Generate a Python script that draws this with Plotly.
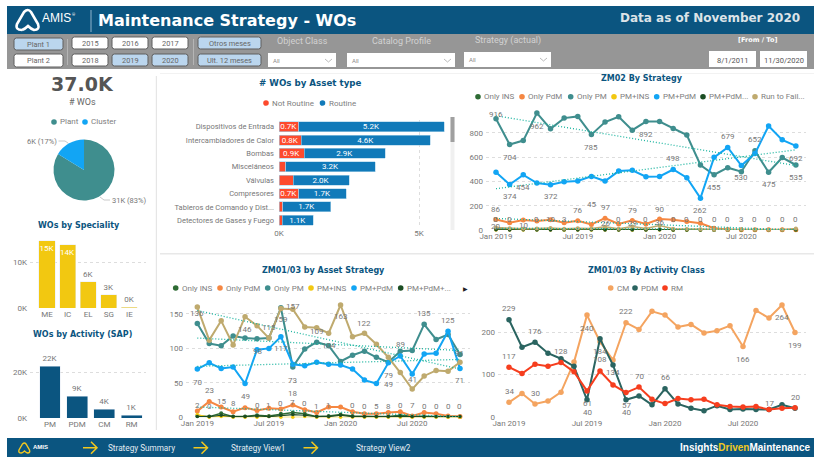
import plotly.graph_objects as go

W, H = 827, 461
BLUE = "#0B5580"; GREY = "#969696"; TXT = "#777777"; YEL = "#F2C81F"
TEAL = "#3F8E8E"; SKY = "#12A5F4"; ORG = "#F58742"; TAN = "#BFAA6E"; DGR = "#2E6B34"; DK = "#1B4D23"; GOLD = "#F2C811"
TREND = "#1DB5A0"
BODY = "Roboto"; HEAD = "DejaVu Sans"

# ---------- data ----------
months = ["Jan 2019","Feb 2019","Mar 2019","Apr 2019","May 2019","Jun 2019","Jul 2019","Aug 2019","Sep 2019","Oct 2019","Nov 2019","Dec 2019",
          "Jan 2020","Feb 2020","Mar 2020","Apr 2020","May 2020","Jun 2020","Jul 2020","Aug 2020","Sep 2020","Oct 2020","Nov 2020"]
date_ticks = ["Jan 2019","Jul 2019","Jan 2020","Jul 2020"]

pie_names = ["Plant","Cluster"]
pie_values = [31,6]

spec_cats = ["ME","IC","EL","SG","IE"]
spec_vals = [14.6,13.7,5.7,2.9,0.2]
spec_text = ["15K","14K","6K","3K","0K"]

act_cats = ["PM","PDM","CM","RM"]
act_vals = [22.4,9.4,3.9,1.3]
act_text = ["22K","9K","4K","1K"]

asset_cats = ["Dispositivos de Entrada","Intercambiadores de Calor","Bombas","Misceláneos","Válvulas","Compresores","Tableros de Comando y Dist...","Detectores de Gases y Fuego"]
not_routine = [0.7,0.8,0.9,0.24,0.5,0.7,0.14,0.12]
routine = [5.2,4.6,2.9,3.2,2.0,1.7,1.7,1.1]

z2_ins = [8,6,10,8,10,3,6,5,8,4,3,5,6,3,2,2,1,1,3,1,1,2,1]
z2_pdm = [86,60,82,75,85,60,76,45,97,50,79,50,90,85,70,55,15,5,3,3,3,3,3]
z2_pm = [916,704,736,962,833,921,935,785,888,932,822,892,892,836,781,535,455,513,480,652,475,596,535]
z2_pminS = [0,0,0,0,0,0,0,0,0,0,0,0,0,0,0,0,0,0,0,0,0,0,0]
z2_pmpdm = [475,374,454,386,372,397,403,441,403,485,491,439,441,498,430,262,598,679,530,629,856,742,692]
z2_plus = [2,1,2,1,1,2,1,2,1,1,2,1,2,1,1,1,1,1,1,1,1,1,1]
z2_run = [20,14,10,12,16,10,15,12,26,10,29,12,36,10,8,6,3,3,5,3,3,3,12]
z2_small_text = ["0","0","","0","10","3","","","","0","","0","","0","0","0","0","0","3","0","0","0","0"]
z2_trend_pm = [940,530]
z2_trend_pmpdm = [340,660]
z2_trend_pdm = [95,0]
z2_trend_run = [14,4]

z1_ins = [2,1,6,1,1,3,2,5,7,5,1,2,4,2,1,1,1,3,2,1,1,1,1]
z1_pdm = [9,23,15,8,14,10,13,12,18,11,7,15,15,8,5,5,7,8,2,7,5,2,1]
z1_pm = [136,107,104,118,115,114,115,159,73,99,109,104,81,90,96,87,80,96,97,135,113,120,91]
z1_pmins = [4,0,1,0,0,0,1,0,0,1,0,0,0,0,0,0,0,0,0,0,0,0,0]
z1_pmpdm = [70,79,71,73,49,98,100,117,77,75,80,77,76,70,54,49,79,89,63,92,93,125,71]
z1_plus = [1,1,3,1,1,2,1,3,4,3,1,1,3,1,1,1,1,2,1,1,1,1,1]
z1_run = [160,112,140,105,146,133,115,158,157,131,130,122,163,117,122,106,87,65,41,60,68,67,80]
z1_small_text = ["2","0","","","","0","1","0","7","0","1","1","","0","0","5","8","0","7","0","0","0","0"]
z1_extra_text = {16:"49"}
z1_trend_run = [155,70]
z1_trend_pm = [115,97]
z1_trend_pmpdm = [74,84]
z1_trend_pdm = [15,1]

cm = [34,55,30,37,58,129,240,177,134,222,206,249,240,212,218,198,203,215,166,251,233,264,199]
pdm = [229,164,176,150,137,119,40,184,122,40,49,28,66,30,20,14,26,17,18,17,17,28,20]
rm = [117,102,124,119,128,106,61,108,75,57,70,41,31,43,40,41,28,24,23,24,17,20,21]

# ---------- pixel helpers ----------
def fx(x): return x / W
def fy(y): return 1 - y / H
shapes, notes = [], []

def txt(x, y, s, size=8, color=TXT, font=BODY, anchor="center", bold=False):
    notes.append(dict(x=fx(x), y=fy(y), xref="paper", yref="paper", text=f"<b>{s}</b>" if bold else s, showarrow=False,
                      xanchor=anchor, yanchor="middle", font=dict(size=size, color=color, family=font), borderpad=0))

def rect(x0, y0, x1, y1, fill, line=None, lw=1, layer="below"):
    shapes.append(dict(type="rect", xref="paper", yref="paper", x0=fx(x0), x1=fx(x1), y0=fy(y0), y1=fy(y1), fillcolor=fill,
                       line=dict(color=line or fill, width=lw if line else 0), layer=layer))

def pth(points, color, lw=1, fill=None, layer="above"):
    d = ""
    for cmd, *c in points:
        d += cmd + " ".join(f"{(fx(c[i]) if i % 2 == 0 else fy(c[i])):.5f}" for i in range(len(c))) + " "
    shapes.append(dict(type="path", xref="paper", yref="paper", path=d, line=dict(color=color, width=lw),
                       fillcolor=fill or "rgba(0,0,0,0)", layer=layer))

def rrect(x0, y0, x1, y1, fill, line="#5f5f5f", r=2.5, lw=1):
    pth([("M", x0+r, y0), ("L", x1-r, y0), ("Q", x1, y0, x1, y0+r), ("L", x1, y1-r), ("Q", x1, y1, x1-r, y1),
         ("L", x0+r, y1), ("Q", x0, y1, x0, y1-r), ("L", x0, y0+r), ("Q", x0, y0, x0+r, y0), ("Z",)], line, lw, fill, "below")

def dot(x, y, color, r=2.8):
    shapes.append(dict(type="circle", xref="paper", yref="paper", x0=fx(x-r), x1=fx(x+r), y0=fy(y-r), y1=fy(y+r),
                       fillcolor=color, line=dict(width=0)))

def legend(items, y, size=8):
    for x, name, color in items:
        dot(x, y, color)
        txt(x+5, y, name, size=size, anchor="left", color="#808080")

def logo(ox, oy, k, color, lw):
    P = lambda x, y: (ox + x*k, oy + y*k)
    pth([("M", *P(7,20)), ("Q", *P(0,20), *P(2,14)), ("L", *P(9,2)), ("Q", *P(13,-2), *P(16,2)), ("L", *P(23,14)),
         ("Q", *P(25,20), *P(19,20)), ("Q", *P(16,19), *P(13,16)), ("Q", *P(10,19), *P(7,20))], color, lw)

# ---------- chrome ----------
rect(7, 6, 814, 34, BLUE)
rect(7, 34, 814, 69, GREY)
rect(7, 438, 814, 457, BLUE)
rect(155.8, 76, 157, 430, "#E6E6E6")
rect(160, 253, 814, 254.5, "#E8E8E8")
rect(160, 73, 814, 74, "#F2F2F2")

logo(15, 10, 1.0, "#FFFFFF", 2.6)
txt(41, 18, "AMIS", size=12, color="#FFFFFF", anchor="left", font="Liberation Sans")
txt(73, 15, "®", size=4, color="#FFFFFF")
rect(90.5, 10, 91.5, 32, "#8FB4CB")
txt(97, 20.5, "Maintenance Strategy - WOs", size=16, color="#FFFFFF", font=HEAD, anchor="left", bold=True)
txt(801, 18.5, "Data as of November 2020", size=12, color="#DCE3E8", font=HEAD, anchor="right", bold=True)

SEL = "#BBD6EE"
buttons = [(14,38,63,50,"Plant 1",SEL),(14,54,63,67,"Plant 2","#FFFFFF"),
           (72,37,108,49,"2015","#FFFFFF"),(112,37,148,49,"2016","#FFFFFF"),(152,37,188,49,"2017","#FFFFFF"),
           (72,54,108,66,"2018","#FFFFFF"),(112,54,148,66,"2019",SEL),(152,54,188,66,"2020",SEL),
           (198,37,261,49,"Otros meses",SEL),(198,54,261,66,"Ult. 12 meses",SEL)]
for x0, y0, x1, y1, s, f in buttons:
    rrect(x0, y0, x1, y1, f)
    txt((x0+x1)/2, (y0+y1)/2+0.3, s, size=7.4, color="#666666")
rect(67, 39, 67.8, 65, "#BDBDBD")
rect(193, 39, 193.8, 65, "#BDBDBD")

txt(302, 41, "Object Class", size=9, color="#D2D2D2")
txt(401, 41, "Catalog Profile", size=9, color="#D2D2D2")
txt(508, 40, "Strategy (actual)", size=9, color="#D2D2D2")
for x0, x1, y0 in [(268,336,53),(347,455,53),(464,551,52)]:
    rect(x0, y0, x1, 67, "#FFFFFF")
    txt(x0+4, y0+7.5, "All", size=6, color="#8A8A8A", anchor="left")
    pth([("M", x1-11, y0+6), ("L", x1-7.5, y0+9), ("L", x1-4, y0+6)], "#A8A8A8", 0.8)
txt(757, 39.5, "[From / To]", size=6.5, color="#FFFFFF", font=HEAD, bold=True)
rect(709, 51, 756, 67, "#FFFFFF")
rect(760, 51, 807, 67, "#FFFFFF")
txt(732.5, 60, "8/1/2011", size=7.5, color="#555555")
txt(783.5, 60, "11/30/2020", size=7.5, color="#555555")

# footer
logo(18, 443, 0.5, YEL, 1.4)
txt(32, 447, "AMIS", size=6, color="#FFFFFF", anchor="left", font="Liberation Sans", bold=True)
for ax in (83, 193.5, 303.5):
    pth([("M", ax, 447.7), ("L", ax+14, 447.7), ("M", ax+8, 441.7), ("L", ax+14, 447.7), ("L", ax+8, 453.7)], YEL, 1.5)
txt(107, 447.5, "Strategy Summary", size=8.2, color="#E4ECF2", anchor="left")
txt(230, 447.5, "Strategy View1", size=8.2, color="#E4ECF2", anchor="left")
txt(355, 447.5, "Strategy View2", size=8.2, color="#E4ECF2", anchor="left")
notes.append(dict(x=fx(812), y=fy(447.5), xref="paper", yref="paper", xanchor="right", yanchor="middle", showarrow=False,
                  text=f"<b>Insights<span style='color:{YEL}'>Driven</span>Maintenance</b>",
                  font=dict(size=10, color="#FFFFFF", family="Liberation Sans")))

# titles
for x, y, s, sz in [(79,226,"WOs by Speciality",8),(82,334,"WOs by Activity (SAP)",8),(310,83,"# WOs by Asset type",8.7),
                    (642,78,"ZM02 By Strategy",8),(323,270,"ZM01/03 by Asset Strategy",8),(646,270,"ZM01/03 By Activity Class",8)]:
    txt(x, y, s, size=sz, color=BLUE, font=HEAD, bold=True)

# KPI + pie captions
txt(82, 84, "37.0K", size=19, color="#555555", font=HEAD, bold=True)
txt(82, 102, "# WOs", size=9, color="#666666")
legend([(54,pie_names[0],TEAL),(85,pie_names[1],SKY)], 122)
txt(42, 141, f"{pie_values[1]}K (17%)", size=7.5)
txt(129, 200, f"{pie_values[0]}K (83%)", size=7.5)
pth([("M", 58.5, 141), ("L", 65, 141), ("L", 68, 143)], "#BBBBBB", 0.8)
pth([("M", 100, 197), ("L", 104, 200), ("L", 110, 200)], "#BBBBBB", 0.8)

# legends
legend([(266,"Not Routine","#FD4A2D"),(322.5,"Routine","#117AB9")], 103)
legend([(478,"Only INS",DGR),(522,"Only PdM",ORG),(570.7,"Only PM",TEAL),(614,"PM+INS",GOLD),(656.7,"PM+PdM",SKY),(703,"PM+PdM...",DK),(755,"Run to Fail...",TAN)], 96.7)
legend([(175.7,"Only INS",DGR),(220,"Only PdM",ORG),(267.7,"Only PM",TEAL),(311,"PM+INS",GOLD),(354,"PM+PdM",SKY),(400.7,"PM+PdM+...",DK)], 288)
txt(465, 288, "▶", size=6, color="#222222")
legend([(610.7,"CM","#F4A460"),(635,"PDM","#2A6460"),(665,"RM","#F63E1E")], 288)

# scrollbar
rect(450.5, 117, 454.5, 230, "#F0F0F0")
rect(450.5, 117, 454.5, 142, "#A0A0A0")

# ---------- charts ----------
fig = go.Figure()

fig.add_trace(go.Pie(labels=pie_names, values=pie_values, sort=False, direction="clockwise", rotation=0,
                     marker=dict(colors=[TEAL, SKY]), textinfo="none", hoverinfo="label+value", showlegend=False,
                     domain=dict(x=[fx(53.5), fx(114.5)], y=[fy(200.5), fy(139.5)])))

layout = {}
AX = {"tickfont": dict(size=8, color=TXT, family=BODY), "showline": False, "zeroline": False, "ticks": "", "automargin": False}
GRID = dict(showgrid=True, gridcolor="#DDDDDD", griddash="dot", gridwidth=1)

def axes(n, x0, x1, ytop, ybot, xzero, xscale, yscale, **xkw):
    """plot box in pixels; xzero = pixel of first category, xscale = pixels per category, yscale = pixels per unit."""
    s = "" if n == 1 else str(n)
    xax = dict(domain=[fx(x0), fx(x1)], anchor=f"y{s}", range=[(x0-xzero)/xscale, (x1-xzero)/xscale], showgrid=False, type="category", **AX)
    xax.update(xkw)
    yax = dict(domain=[fy(ybot), fy(ytop)], anchor=f"x{s}", range=[0, (ybot-ytop)/yscale], ticklabelstandoff=2, **AX, **GRID)
    layout[f"xaxis{s}"] = xax
    layout[f"yaxis{s}"] = yax

# speciality (axes 1)
axes(1, 30, 146, 235, 308, 47, 20.6, 4.6)
layout["yaxis"].update(tickvals=[0,10], ticktext=["0K","10K"])
fig.add_trace(go.Bar(x=spec_cats, y=spec_vals, text=spec_text, width=0.78, marker=dict(color=GOLD), cliponaxis=False, showlegend=False,
                     textposition=["inside","inside","outside","outside","outside"], insidetextanchor="end", constraintext="none", textangle=0,
                     insidetextfont=dict(color="#FFFFFF", size=8, family=BODY), outsidetextfont=dict(color=TXT, size=8, family=BODY), xaxis="x", yaxis="y"))

# activity (axes 2)
axes(2, 30, 146, 360, 418, 50, 27.2, 2.3)
layout["yaxis2"].update(tickvals=[0,20], ticktext=["0K","20K"])
fig.add_trace(go.Bar(x=act_cats, y=act_vals, text=act_text, width=0.77, marker=dict(color=BLUE), cliponaxis=False, showlegend=False,
                     textposition="outside", constraintext="none", textangle=0, outsidetextfont=dict(color=TXT, size=8, family=BODY), xaxis="x2", yaxis="y2"))

# asset hbar (axes 3)
AX3 = dict(AX, tickfont=dict(size=7.5, color=TXT, family=BODY))
layout["xaxis3"] = dict(domain=[fx(279), fx(448)], anchor="y3", range=[0, 169/28], tickvals=[0,5], ticktext=["0K","5K"], **AX, **GRID)
layout["yaxis3"] = dict(domain=[fy(227), fy(120)], anchor="x3", type="category", autorange=False,
                        range=[7.5, -0.5], showgrid=False, ticklabelstandoff=4, **AX3)
for name, vals, col, lab in [("Not Routine", not_routine, "#FD4A2D", ["0.7K","0.8K","0.9K","","","0.7K","",""]),
                             ("Routine", routine, "#117AB9", ["5.2K","4.6K","2.9K","3.2K","2.0K","1.7K","1.7K","1.1K"])]:
    fig.add_trace(go.Bar(y=asset_cats, x=vals, name=name, orientation="h", width=0.75, text=lab, textposition="inside", insidetextanchor="middle",
                         constraintext="none", textangle=0, marker=dict(color=col, line=dict(color="#A9D0E8", width=0.6)),
                         textfont=dict(color="#FFFFFF", size=8, family=BODY), showlegend=False, xaxis="x3", yaxis="y3"))

def line(ax, name, vals, col, size=5.5, lw=2):
    s = "" if ax == 1 else str(ax)
    fig.add_trace(go.Scatter(x=months, y=vals, name=name, mode="lines+markers", line=dict(color=col, width=lw), marker=dict(color=col, size=size),
                             cliponaxis=False, showlegend=False, xaxis=f"x{s}", yaxis=f"y{s}"))

def trend(ax, ends):
    fig.add_trace(go.Scatter(x=[months[0], months[-1]], y=ends, mode="lines", line=dict(color=TREND, width=1.3, dash="1px,2px"),
                             cliponaxis=False, showlegend=False, hoverinfo="skip", xaxis=f"x{ax}", yaxis=f"y{ax}"))

def labels(ax, vals, spec, texts=None):
    for i, dy in spec:
        s = texts[i] if texts else str(vals[i])
        if s == "":
            continue
        notes.append(dict(x=months[i], y=vals[i], xref=f"x{ax}", yref=f"y{ax}", yshift=dy, text=s, showarrow=False,
                          font=dict(size=8, color=TXT, family=BODY), yanchor="middle", xanchor="center"))

# ZM02 (axes 4)
axes(4, 486, 806, 108, 230, 496, 13.63, 0.1215, tickvals=date_ticks)
layout["yaxis4"].update(tickvals=[0,200,400,600,800])
for n, v, c, m, w in [("Only INS", z2_ins, DGR, 4, 1.5),("Only PdM", z2_pdm, ORG, 5, 2),("Only PM", z2_pm, TEAL, 5.5, 2),("PM+INS", z2_pminS, GOLD, 3.5, 1.2),("PM+PdM", z2_pmpdm, SKY, 5.5, 2),("PM+PdM+INS", z2_plus, DK, 3.5, 1.2),("Run to Failure", z2_run, TAN, 4, 1.5)]:
    line(4, n, v, c, m, w)
for e in (z2_trend_pm, z2_trend_pmpdm, z2_trend_pdm, z2_trend_run):
    trend(4, e)
labels(4, z2_pm, [(0,4),(1,-13),(3,-13),(7,-13),(11,-13),(16,-13),(19,11),(20,-12),(22,-12)])
labels(4, z2_pmpdm, [(1,-12),(2,-13),(4,-12),(13,11),(15,-12),(17,11),(18,-12),(22,-13)])
labels(4, z2_pdm, [(0,10),(6,10),(7,20),(8,11),(10,10),(12,10)])
labels(4, z2_pminS, [(i,10.5) for i in range(23)], z2_small_text)
labels(4, z2_run, [(0,1),(2,3),(8,3),(10,3),(12,3)])

# ZM01/03 strategy (axes 5)
axes(5, 186, 470, 300, 417.3, 197.3, 11.94, 0.689, tickvals=date_ticks)
layout["yaxis5"].update(tickvals=[0,50,100,150])
for n, v, c, m, w in [("Only INS", z1_ins, DGR, 4, 1.5),("Only PdM", z1_pdm, ORG, 5, 2),("Only PM", z1_pm, TEAL, 5.5, 2),("PM+INS", z1_pmins, GOLD, 3.5, 1.2),("PM+PdM", z1_pmpdm, SKY, 5.5, 2),("PM+PdM+INS", z1_plus, DK, 3.5, 1.2),("Run to Failure", z1_run, TAN, 5.5, 2)]:
    line(5, n, v, c, m, w)
for e in (z1_trend_run, z1_trend_pm, z1_trend_pmpdm, z1_trend_pdm):
    trend(5, e)
labels(5, z1_pm, [(0,10),(6,11),(7,-12),(8,-13),(10,11),(11,0),(19,11),(22,1)])
labels(5, z1_run, [(4,-13),(8,3),(12,-12),(14,10),(18,10)])
labels(5, z1_pmpdm, [(0,-13),(4,-13),(5,-2),(7,-12),(16,-13),(17,11),(21,11),(22,-12)])
labels(5, z1_pmpdm, [(16,-22)], z1_extra_text)
labels(5, z1_pdm, [(1,11),(2,5),(3,8),(8,11)])
labels(5, z1_ins, [(i,10) for i in range(23) if z1_small_text[i] != ""], z1_small_text)

# ZM01/03 activity (axes 6)
axes(6, 498, 806, 300, 416.7, 509, 13.0, 0.4233, tickvals=date_ticks)
layout["yaxis6"].update(tickvals=[0,100,200])
for n, v, c in [("CM", cm, "#F4A460"),("PDM", pdm, "#2A6460"),("RM", rm, "#F63E1E")]:
    line(6, n, v, c)
labels(6, cm, [(0,11),(2,11),(6,-13),(8,-13),(9,11),(18,-13),(21,-13),(22,-13)])
labels(6, pdm, [(0,11),(2,11),(6,-13),(7,-13),(9,-13),(12,11),(20,6),(22,11)])
labels(6, rm, [(0,11),(4,11),(6,-13),(7,11),(9,-13),(10,11)])

fig.update_layout(width=W, height=H, margin=dict(l=0, r=0, t=0, b=0), paper_bgcolor="#FFFFFF", plot_bgcolor="rgba(0,0,0,0)",
                  barmode="stack", showlegend=False, shapes=shapes, annotations=notes, font=dict(family=BODY, color=TXT), **layout)

fig.write_html("out.html", config=dict(displayModeBar=False, responsive=False),
               post_script="document.body.style.margin='0';document.body.style.overflow='hidden';")
